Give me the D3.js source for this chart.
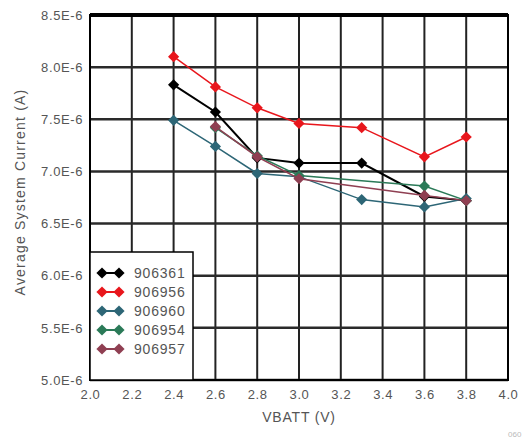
<!DOCTYPE html>
<html>
<head>
<meta charset="utf-8">
<script src="https://cdn.jsdelivr.net/npm/d3@7"></script>
<style>
  body { margin: 0; background: #fff; }
  svg { display: block; font-family: "Liberation Sans", Arial, sans-serif; }
</style>
</head>
<body>
<div id="chart"></div>
<script>
// data (current in units of 1E-6 A)
const xTicks = [2.0, 2.2, 2.4, 2.6, 2.8, 3.0, 3.2, 3.4, 3.6, 3.8, 4.0];
const yTicks = [5.0, 5.5, 6.0, 6.5, 7.0, 7.5, 8.0, 8.5];
const seriesNames = ["906361", "906956", "906960", "906954", "906957"];
const seriesColors = ["#000000", "#e8161c", "#2d6676", "#2b7a58", "#8f3f52"];

const vbattFull = [2.4, 2.6, 2.8, 3.0, 3.3, 3.6, 3.8];
const vbattShort = [2.6, 2.8, 3.0, 3.6, 3.8];
const s906361 = [7.83, 7.57, 7.13, 7.08, 7.08, 6.76, 6.72];
const s906956 = [8.10, 7.81, 7.61, 7.46, 7.42, 7.14, 7.33];
const s906960 = [7.49, 7.24, 6.98, 6.95, 6.73, 6.66, 6.74];
const s906954 = [7.42, 7.15, 6.96, 6.86, 6.72];
const s906957 = [7.43, 7.14, 6.93, 6.77, 6.72];

const series = [
  { name: seriesNames[0], color: seriesColors[0], x: vbattFull, y: s906361 },
  { name: seriesNames[1], color: seriesColors[1], x: vbattFull, y: s906956 },
  { name: seriesNames[2], color: seriesColors[2], x: vbattFull, y: s906960 },
  { name: seriesNames[3], color: seriesColors[3], x: vbattShort, y: s906954 },
  { name: seriesNames[4], color: seriesColors[4], x: vbattShort, y: s906957 }
];

const width = 526, height = 441;
const plotL = 90, plotR = 508, plotT = 15, plotB = 380;

const svg = d3.select("#chart").append("svg")
  .attr("width", width)
  .attr("height", height);

const x = d3.scaleLinear().domain([2.0, 4.0]).range([plotL, plotR]);
const y = d3.scaleLinear().domain([5.0, 8.5]).range([plotB, plotT]);

// grid
svg.append("g").selectAll("line")
  .data(xTicks)
  .enter().append("line")
  .attr("x1", d => x(d)).attr("x2", d => x(d))
  .attr("y1", plotT).attr("y2", plotB)
  .attr("stroke", "#222").attr("stroke-width", 2);

svg.append("g").selectAll("line")
  .data(yTicks)
  .enter().append("line")
  .attr("x1", plotL).attr("x2", plotR)
  .attr("y1", d => y(d)).attr("y2", d => y(d))
  .attr("stroke", "#2a2a2a").attr("stroke-width", 2.5);

// frame
svg.append("rect")
  .attr("x", plotL).attr("y", plotT)
  .attr("width", plotR - plotL).attr("height", plotB - plotT)
  .attr("fill", "none").attr("stroke", "#000").attr("stroke-width", 2);
svg.append("line")
  .attr("x1", plotL).attr("x2", plotR).attr("y1", plotT).attr("y2", plotT)
  .attr("stroke", "#000").attr("stroke-width", 4);

// axes
const xAxis = d3.axisBottom(x).tickValues(xTicks).tickSize(0).tickPadding(10)
  .tickFormat(d3.format(".1f"));
const yAxis = d3.axisLeft(y).tickValues(yTicks).tickSize(0).tickPadding(7)
  .tickFormat(d => d.toFixed(1) + "E-6");

const gx = svg.append("g").attr("transform", "translate(0," + plotB + ")").call(xAxis);
const gy = svg.append("g").attr("transform", "translate(" + plotL + ",0)").call(yAxis);
[gx, gy].forEach(g => {
  g.select(".domain").remove();
  g.selectAll("text")
    .attr("fill", "#555")
    .style("font-size", "13px")
    .style("letter-spacing", "0.6px")
    .style("font-family", "Liberation Sans, Arial, sans-serif");
});

// titles
svg.append("text")
  .attr("x", (plotL + plotR) / 2).attr("y", 422)
  .attr("text-anchor", "middle")
  .attr("fill", "#555").style("font-size", "14px")
  .style("letter-spacing", "0.8px")
  .text("VBATT (V)");

svg.append("text")
  .attr("transform", "translate(25," + 192 + ") rotate(-90)")
  .attr("text-anchor", "middle")
  .attr("fill", "#555").style("font-size", "14px")
  .style("letter-spacing", "1.2px")
  .text("Average System Current (A)");

svg.append("text")
  .attr("x", 508).attr("y", 437)
  .attr("fill", "#bbb").style("font-size", "8px")
  .text("060");

// lines and markers
const line = d3.line().x(d => x(d[0])).y(d => y(d[1]));
const diamond = d3.symbol().type(d3.symbolDiamond2).size(80);

series.forEach((s, i) => {
  const pts = s.x.map((v, k) => [v, s.y[k]]);
  const g = svg.append("g");
  g.append("path")
    .datum(pts)
    .attr("d", line)
    .attr("fill", "none")
    .attr("stroke", s.color)
    .attr("stroke-width", i === 0 ? 2 : 1.5);
  g.selectAll("path.pt")
    .data(pts)
    .enter().append("path")
    .attr("class", "pt")
    .attr("d", diamond)
    .attr("transform", d => "translate(" + x(d[0]) + "," + y(d[1]) + ")")
    .attr("fill", s.color);
});

// legend
const legend = svg.append("g");
legend.append("rect")
  .attr("x", plotL).attr("y", 252)
  .attr("width", 103).attr("height", plotB - 252)
  .attr("fill", "#fff").attr("stroke", "#000").attr("stroke-width", 1.5);

series.forEach((s, i) => {
  const ly = 273 + i * 19;
  legend.append("line")
    .attr("x1", 98).attr("x2", 123).attr("y1", ly).attr("y2", ly)
    .attr("stroke", s.color).attr("stroke-width", 2);
  [102, 119].forEach(cx => {
    legend.append("path")
      .attr("d", diamond)
      .attr("transform", "translate(" + cx + "," + ly + ")")
      .attr("fill", s.color);
  });
  legend.append("text")
    .attr("x", 134).attr("y", ly + 5)
    .attr("fill", "#555").style("font-size", "14px")
    .style("letter-spacing", "0.8px")
    .text(s.name);
});
</script>
</body>
</html>
